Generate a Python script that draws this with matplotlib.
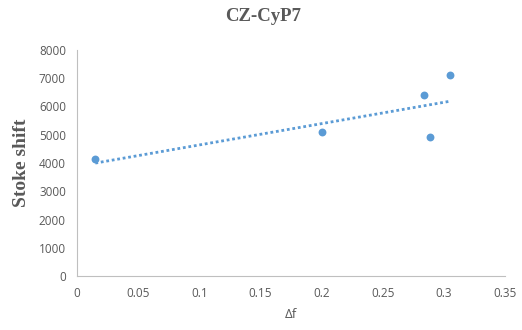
import matplotlib.pyplot as plt
import numpy as np

delta_f = [0.015, 0.200, 0.284, 0.289, 0.305]
stoke_shift = [4140, 5100, 6400, 4920, 7110]

blue = '#5B9BD5'
grey = '#595959'

fig = plt.figure(figsize=(5.22, 3.30), dpi=100)
ax = fig.add_axes([0.1475, 0.1636, 0.8199, 0.6849])

x = np.array(delta_f)
y = np.array(stoke_shift)
slope, intercept = np.polyfit(x, y, 1)
xs = np.array([x.min(), x.max()])
ax.plot(xs, slope * xs + intercept, color=blue, lw=2.0, ls=(0, (1, 1)), dash_capstyle='butt')
ax.scatter(x, y, s=32, color=blue, zorder=3, linewidths=0)

ax.set_xlim(0, 0.35)
ax.set_ylim(0, 8000)
ax.set_xticks(np.arange(0, 0.351, 0.05))
ax.set_xticklabels(['0', '0.05', '0.1', '0.15', '0.2', '0.25', '0.3', '0.35'])
ax.set_yticks(np.arange(0, 8001, 1000))

for side in ('top', 'right'):
	ax.spines[side].set_visible(False)
for side in ('left', 'bottom'):
	ax.spines[side].set_color('#BFBFBF')
	ax.spines[side].set_linewidth(0.8)
ax.tick_params(length=0, labelsize=8.5, labelcolor=grey, pad=8)
for lab in ax.get_xticklabels() + ax.get_yticklabels():
	lab.set_family('Open Sans')

ax.set_xlabel('Δf', fontsize=9.5, color=grey, family='Open Sans', labelpad=6)
ax.set_ylabel('Stoke shift', fontsize=14, color=grey, family='Liberation Serif', fontweight='bold', labelpad=6)
fig.suptitle('CZ-CyP7', x=0.505, y=0.975, fontsize=13.5, color=grey, family='Liberation Serif', fontweight='bold')

fig.savefig('out.png', dpi=100)
